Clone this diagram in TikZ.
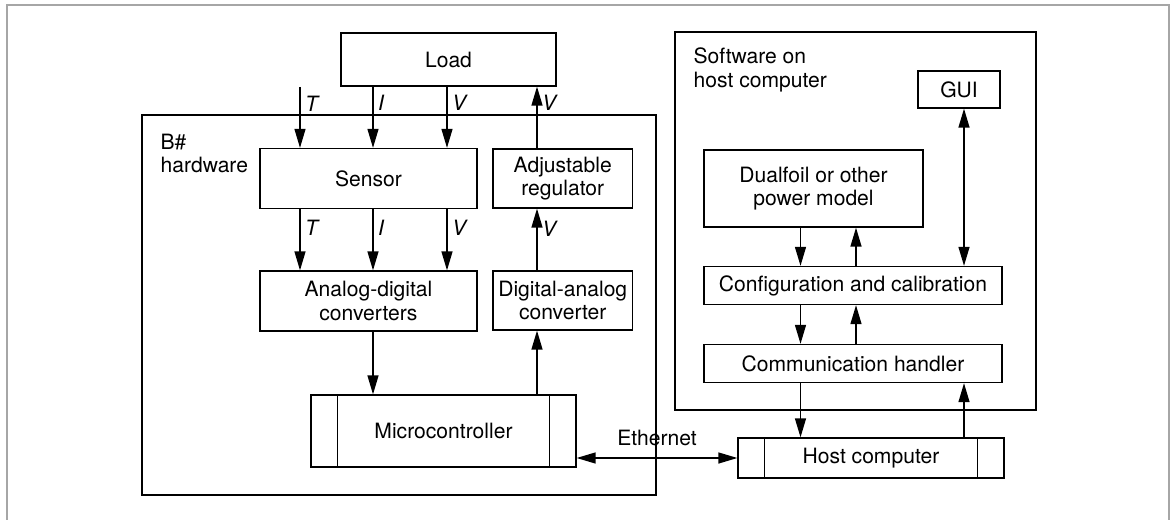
\documentclass[tikz,border=0pt]{standalone}
\usepackage{fontspec}
\setmainfont{TeX Gyre Heros}
\usetikzlibrary{arrows.meta}
\tikzset{
    % node style
    every node/.style = {font=\fontsize{12}{13.5}\selectfont},
    % arrow style
    >={Triangle[width=2.2mm, length=3.8mm]},
    % abstract base node style
    base/.style = {
        draw, rectangle, inner sep=0pt,
        align=center
    },
    % special node styles (inherited from base style)
    group/.style = {base},
    wide/.style = {base, minimum width=4.34cm, minimum height=1.2cm},
    narrow/.style = {base, minimum width=2.79cm, minimum height=1.18cm},
    layer/.style = {base, minimum width=5.96cm, minimum height=0.76cm},
    % box with bars on both sides
    proc/.style = {base, path picture={
        \draw ([xshift=0.53cm]path picture bounding box.north west) -- ([xshift=0.53cm]path picture bounding box.south west)
              ([xshift=-0.53cm]path picture bounding box.north east) -- ([xshift=-0.53cm]path picture bounding box.south east);
    }},
    grouplabel/.style = {anchor=north west, inner sep=0pt, align=left},
    sig/.style = {right, inner sep=2.5pt, font=\fontsize{12}{13.5}\selectfont\itshape},
    frame/.style = {draw=gray!70, line width=0.9pt}
}

\begin{document}
\begin{tikzpicture}[x=0.02cm, y=-0.02cm, line width=0.75pt]
        \useasboundingbox (0,0) rectangle (1173,520);
        % outer frame
        \draw[frame] (7,540) -- (7,5) -- (1169,5) -- (1169,540);
        % group boxes and their labels
        \node[group, minimum width=10.28cm, minimum height=7.6cm] (hw) at (399,305) {};
        \node[group, minimum width=7.22cm, minimum height=7.56cm] (sw) at (855.5,221) {};
        \node[grouplabel] (hwlabel) at (160,133) {B\#\\hardware};
        \node[grouplabel] (swlabel) at (693,47) {Software on\\host computer};
        % place blocks of the hardware side
        \node[base, minimum width=4.3cm, minimum height=1.06cm] (load) at (448.5,59.5) {Load};
        \node[wide] (sensor) at (368.5,178.5) {Sensor};
        \node[wide] (adc) at (368.5,301) {Analog-digital\\converters};
        \node[narrow] (adj) at (562.75,178.5) {Adjustable\\regulator};
        \node[narrow] (dac) at (562.75,300.5) {Digital-analog\\converter};
        \node[proc, minimum width=5.3cm, minimum height=1.44cm] (micro) at (443.5,431) {Microcontroller};
        % place blocks of the software side
        \node[base, minimum width=1.64cm, minimum height=0.74cm] (gui) at (959,89.5) {GUI};
        \node[base, minimum width=4.38cm, minimum height=1.54cm] (dual) at (813.5,188.5) {Dualfoil or other\\power model};
        \node[layer] (config) at (853,285.5) {Configuration and calibration};
        \node[layer] (comm) at (853,363.5) {Communication handler};
        \node[proc, minimum width=5.32cm, minimum height=0.8cm] (host) at (871,458) {Host computer};
        % columns of the vertical arrows
        \coordinate (colT) at (300,87);
        \coordinate (colI) at (373,0);
        \coordinate (colV) at (447,0);
        \coordinate (colR) at (537,0);
        \coordinate (colD) at (800.5,0);
        \coordinate (colU) at (856,0);
        \coordinate (colG) at (964,0);
        % signals between load, sensor and converters
        \draw[->] (colT) -- (colT |- sensor.north) node[sig, pos=0.27] {T};
        \draw[->] (colI |- load.south) -- (colI |- sensor.north) node[sig, pos=0.27] {I};
        \draw[->] (colV |- load.south) -- (colV |- sensor.north) node[sig, pos=0.27] {V};
        \draw[->] (colR |- adj.north) -- (colR |- load.south) node[sig, pos=0.73] {V};
        \draw[->] (colT |- sensor.south) -- (colT |- adc.north) node[sig, pos=0.3] {T};
        \draw[->] (colI |- sensor.south) -- (colI |- adc.north) node[sig, pos=0.3] {I};
        \draw[->] (colV |- sensor.south) -- (colV |- adc.north) node[sig, pos=0.3] {V};
        \draw[->] (colR |- dac.north) -- (colR |- adj.south) node[sig, pos=0.68] {V};
        \draw[->] (colI |- adc.south) -- (colI |- micro.north);
        \draw[->] (colR |- micro.north) -- (colR |- dac.south);
        % link between both computers
        \draw[<->] (micro.east |- host.west) -- node[above, yshift=3pt] {Ethernet} (host.west);
        % arrows of the software stack
        \draw[->] (colD |- dual.south) -- (colD |- config.north);
        \draw[->] (colU |- config.north) -- (colU |- dual.south);
        \draw[<->] (colG |- config.north) -- (colG |- gui.south);
        \draw[->] (colD |- config.south) -- (colD |- comm.north);
        \draw[->] (colU |- comm.north) -- (colU |- config.south);
        \draw[->] (colD |- comm.south) -- (colD |- host.north);
        \draw[->] (colG |- host.north) -- (colG |- comm.south);
\end{tikzpicture}
\end{document}
